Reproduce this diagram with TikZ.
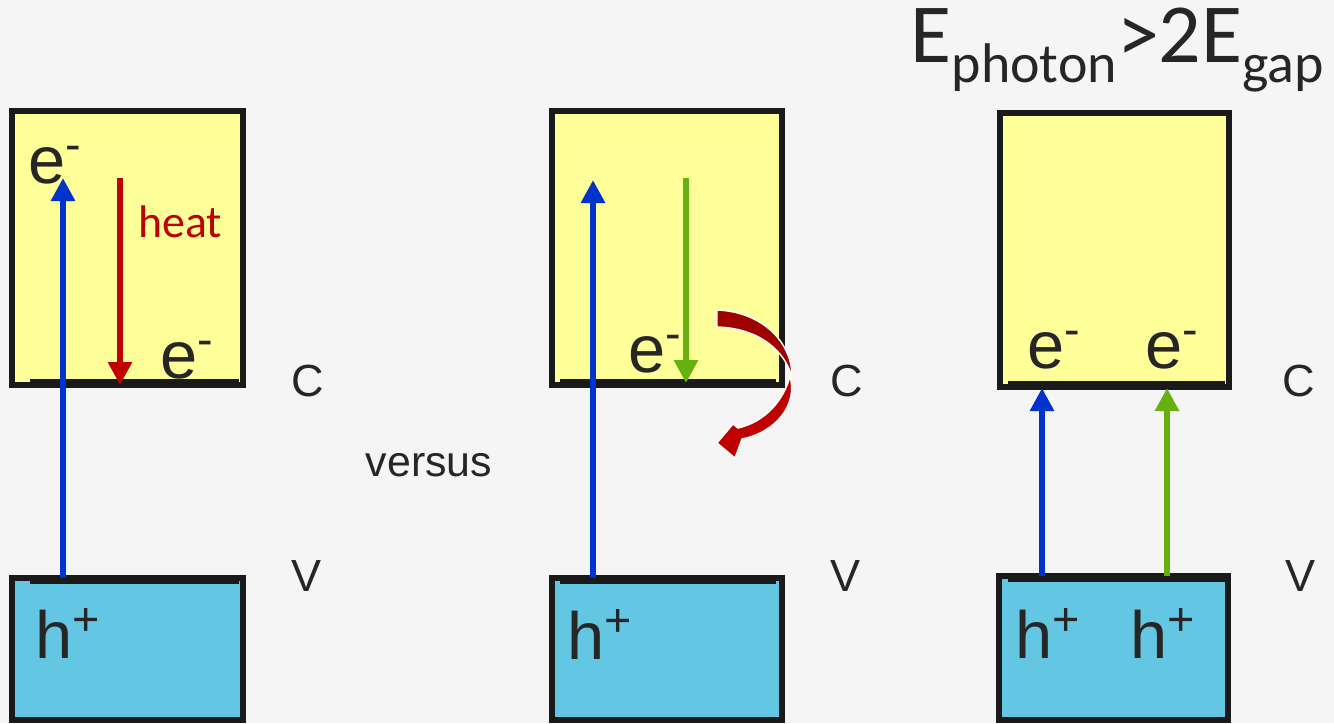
\documentclass[tikz,border=0pt]{standalone}
\usepackage{fontspec}
\setmainfont{Liberation Sans}
\newfontfamily\calfont{Carlito}
\usetikzlibrary{arrows.meta}

\definecolor{bgray}{HTML}{F5F5F5}
\definecolor{ink}{HTML}{262626}
\definecolor{edge}{HTML}{1A1A1A}
\definecolor{cband}{HTML}{FFFF99}
\definecolor{vband}{HTML}{63C7E3}
\definecolor{eblue}{HTML}{0033CC}
\definecolor{egreen}{HTML}{66B010}
\definecolor{hred}{HTML}{C00000}
\definecolor{hdark}{HTML}{A00000}

\tikzset{
  cbox/.style={fill=cband, draw=edge, line width=1.6pt},
  vbox/.style={fill=vband, draw=edge, line width=1.6pt},
  lip/.style={draw=edge, line width=0.9pt},
  jump/.style={line width=1.7pt, -{Triangle[length=0.23cm, width=0.23cm]}},
  carrier/.style={inner sep=0pt, anchor=base west, text=ink, font=\fontsize{19}{19}\selectfont},
  bandlabel/.style={inner sep=0pt, anchor=base west, text=ink, font=\fontsize{12.8}{12.8}\selectfont}
}

\begin{document}
\begin{tikzpicture}[x=0.01cm, y=-0.01cm]

% Background
\fill[bgray] (0,0) rectangle (1334,723);
\useasboundingbox (0,0) rectangle (1334,723);

% Bands
\draw[cbox] (12,111) rectangle (243,385);
\draw[vbox] (12,578) rectangle (243,720);
\draw[cbox] (552,111) rectangle (782,385);
\draw[vbox] (552,578) rectangle (782,720);
\draw[cbox] (1000,113) rectangle (1229,387);
\draw[vbox] (999,576) rectangle (1228,720);

% Band edges
\draw[lip] (30,381) -- (239,381);
\draw[lip] (30,582) -- (239,582);
\draw[lip] (560,381) -- (776,381);
\draw[lip] (560,582) -- (776,582);
\draw[lip] (1008,383) -- (1225,383);
\draw[lip] (1008,580) -- (1225,580);

% Band names
\node[bandlabel] (c1) at (291,396) {C};
\node[bandlabel] (v1) at (291,591) {V};
\node[bandlabel] (c2) at (830,396) {C};
\node[bandlabel] (v2) at (830,591) {V};
\node[bandlabel] (c3) at (1282,396) {C};
\node[bandlabel] (v3) at (1285,591) {V};
\node[bandlabel, font=\fontsize{12.2}{12.2}\selectfont] (vs) at (365,476) {versus};

% Title
\node[inner sep=0pt, anchor=base west, text=ink, font=\calfont\fontsize{23.9}{23.9}\selectfont]
  (title) at (910,62)
  {E\raisebox{-0.2cm}{\fontsize{15.9}{15.9}\selectfont photon}>2E\raisebox{-0.2cm}{\fontsize{15.9}{15.9}\selectfont gap}};

% Case 1: excess energy lost as heat
\coordinate (h1) at (63,578);
\coordinate (e1) at (63,178);
\coordinate (s1) at (120,178);
\coordinate (f1) at (120,385);
\draw[jump, eblue] (h1) -- (e1);
\draw[jump, hred] (s1) -- (f1);
\node[carrier] (eup1) at (28,183) {e\textsuperscript{-}};
\node[carrier] (elo1) at (160,378) {e\textsuperscript{-}};
\node[carrier] (hp1) at (35,658) {h\textsuperscript{+}};
\node[inner sep=0pt, anchor=base west, text=hred, font=\calfont\fontsize{13}{13}\selectfont]
  (heat) at (138,237) {heat};

% Case 2: excess energy passed on
\coordinate (h2) at (593,578);
\coordinate (e2) at (593,180);
\coordinate (s2) at (686,178);
\coordinate (f2) at (686,383);
\draw[jump, eblue] (h2) -- (e2);
\draw[jump, egreen] (s2) -- (f2);
\node[carrier] (elo2) at (628,372) {e\textsuperscript{-}};
\node[carrier] (hp2) at (567,659) {h\textsuperscript{+}};

% Curved arrow
\fill[hdark, draw=white, line width=0.4pt] (717,310)
  .. controls (765,312) and (793,345) .. (792,378)
  .. controls (786,352) and (760,328) .. (717,327) -- cycle;
\fill[hred, draw=white, line width=0.4pt] (790,376)
  .. controls (798,405) and (776,432) .. (742,439)
  -- (735,458) -- (717,443) -- (733,424) -- (738,428)
  .. controls (765,422) and (784,400) .. (790,376) -- cycle;

% Case 3: two pairs
\coordinate (h3a) at (1042,576);
\coordinate (e3a) at (1042,388);
\coordinate (h3b) at (1167,576);
\coordinate (e3b) at (1167,388);
\draw[jump, eblue] (h3a) -- (e3a);
\draw[jump, egreen] (h3b) -- (e3b);
\node[carrier] (ea3) at (1027,368) {e\textsuperscript{-}};
\node[carrier] (eb3) at (1145,368) {e\textsuperscript{-}};
\node[carrier] (ha3) at (1015,658) {h\textsuperscript{+}};
\node[carrier] (hb3) at (1130,658) {h\textsuperscript{+}};

\end{tikzpicture}
\end{document}
